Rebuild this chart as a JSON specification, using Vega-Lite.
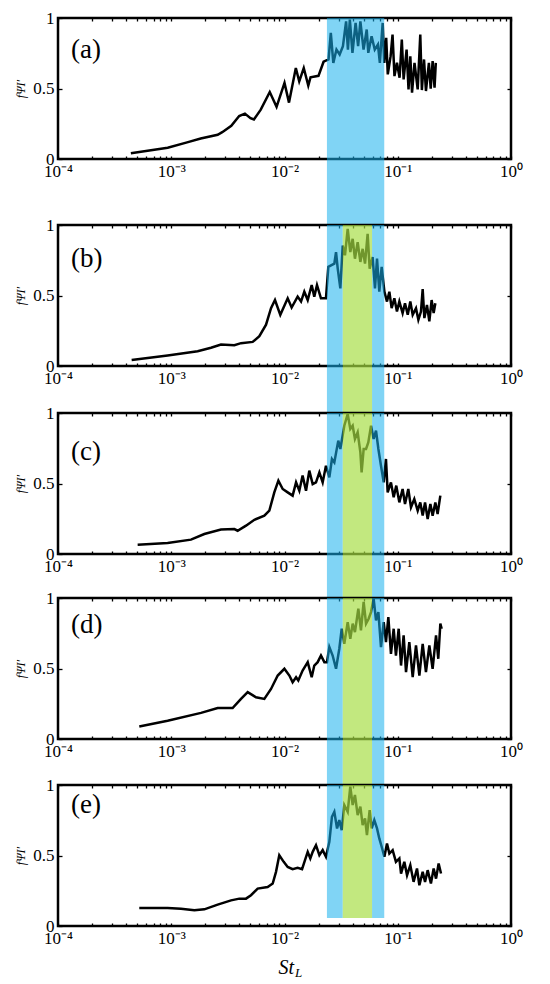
{
  "$schema": "https://vega.github.io/schema/vega-lite/v6.json",
  "padding": {"left": 13, "top": 7, "right": 5, "bottom": 5},
  "bounds": "flush",
  "spacing": 20,
  "datasets": {
    "a": [
      {"St": 0.00044, "f": 0.04}, {"St": 0.00093, "f": 0.08}, {"St": 0.00138, "f": 0.118}, {"St": 0.00182, "f": 0.145},
      {"St": 0.00257, "f": 0.172}, {"St": 0.00282, "f": 0.19}, {"St": 0.00339, "f": 0.235}, {"St": 0.00398, "f": 0.305},
      {"St": 0.00447, "f": 0.322}, {"St": 0.00501, "f": 0.29}, {"St": 0.00537, "f": 0.28}, {"St": 0.00617, "f": 0.35},
      {"St": 0.00741, "f": 0.475}, {"St": 0.00851, "f": 0.37}, {"St": 0.0100, "f": 0.54}, {"St": 0.01096, "f": 0.40},
      {"St": 0.01259, "f": 0.645}, {"St": 0.01349, "f": 0.55}, {"St": 0.01479, "f": 0.645}, {"St": 0.01622, "f": 0.52},
      {"St": 0.01698, "f": 0.58}, {"St": 0.01995, "f": 0.59}, {"St": 0.02213, "f": 0.69}, {"St": 0.02449, "f": 0.706},
      {"St": 0.02564, "f": 0.894}, {"St": 0.02698, "f": 0.682}, {"St": 0.02877, "f": 0.776}, {"St": 0.03069, "f": 0.741},
      {"St": 0.03281, "f": 0.8}, {"St": 0.03499, "f": 0.976}, {"St": 0.03631, "f": 0.776}, {"St": 0.03776, "f": 0.988},
      {"St": 0.03981, "f": 0.753}, {"St": 0.04246, "f": 0.965}, {"St": 0.04467, "f": 0.8}, {"St": 0.04677, "f": 0.976},
      {"St": 0.04989, "f": 0.776}, {"St": 0.05321, "f": 0.918}, {"St": 0.05495, "f": 0.753}, {"St": 0.05875, "f": 0.871},
      {"St": 0.06266, "f": 0.776}, {"St": 0.06683, "f": 0.812}, {"St": 0.0695, "f": 0.682}, {"St": 0.07362, "f": 0.965},
      {"St": 0.07603, "f": 0.682}, {"St": 0.07907, "f": 0.859}, {"St": 0.08166, "f": 0.6}, {"St": 0.0865, "f": 0.729},
      {"St": 0.08995, "f": 0.882}, {"St": 0.09354, "f": 0.588}, {"St": 0.0984, "f": 0.682}, {"St": 0.1038, "f": 0.576},
      {"St": 0.1086, "f": 0.847}, {"St": 0.1127, "f": 0.565}, {"St": 0.1197, "f": 0.776}, {"St": 0.1245, "f": 0.494},
      {"St": 0.1291, "f": 0.729}, {"St": 0.1337, "f": 0.471}, {"St": 0.1406, "f": 0.682}, {"St": 0.15, "f": 0.494},
      {"St": 0.1581, "f": 0.882}, {"St": 0.1633, "f": 0.489}, {"St": 0.1706, "f": 0.706}, {"St": 0.1774, "f": 0.482},
      {"St": 0.1884, "f": 0.682}, {"St": 0.1954, "f": 0.499}, {"St": 0.2032, "f": 0.694}, {"St": 0.2113, "f": 0.506},
      {"St": 0.2168, "f": 0.682}
    ],
    "b": [
      {"St": 0.000447, "f": 0.042}, {"St": 0.000929, "f": 0.075}, {"St": 0.00171, "f": 0.105}, {"St": 0.002244, "f": 0.129},
      {"St": 0.002748, "f": 0.152}, {"St": 0.003606, "f": 0.148}, {"St": 0.00413, "f": 0.162}, {"St": 0.005236, "f": 0.171},
      {"St": 0.005998, "f": 0.211}, {"St": 0.006871, "f": 0.293}, {"St": 0.007603, "f": 0.41}, {"St": 0.008241, "f": 0.468},
      {"St": 0.009183, "f": 0.363}, {"St": 0.01067, "f": 0.48}, {"St": 0.01156, "f": 0.415}, {"St": 0.01306, "f": 0.492},
      {"St": 0.014, "f": 0.457}, {"St": 0.01496, "f": 0.527}, {"St": 0.01603, "f": 0.468}, {"St": 0.01738, "f": 0.574},
      {"St": 0.01832, "f": 0.492}, {"St": 0.01936, "f": 0.574}, {"St": 0.02099, "f": 0.48}, {"St": 0.02323, "f": 0.48},
      {"St": 0.02438, "f": 0.703}, {"St": 0.02576, "f": 0.714}, {"St": 0.02754, "f": 0.726}, {"St": 0.02851, "f": 0.808},
      {"St": 0.02951, "f": 0.691}, {"St": 0.03112, "f": 0.55}, {"St": 0.03266, "f": 0.855}, {"St": 0.0342, "f": 0.785},
      {"St": 0.03614, "f": 0.972}, {"St": 0.03811, "f": 0.808}, {"St": 0.03999, "f": 0.902}, {"St": 0.04188, "f": 0.761},
      {"St": 0.04426, "f": 0.878}, {"St": 0.04677, "f": 0.738}, {"St": 0.04898, "f": 0.831}, {"St": 0.0514, "f": 0.726},
      {"St": 0.0542, "f": 0.937}, {"St": 0.05649, "f": 0.691}, {"St": 0.05998, "f": 0.773}, {"St": 0.06295, "f": 0.55},
      {"St": 0.06561, "f": 0.761}, {"St": 0.06871, "f": 0.527}, {"St": 0.07211, "f": 0.703}, {"St": 0.07621, "f": 0.527},
      {"St": 0.08035, "f": 0.457}, {"St": 0.08433, "f": 0.527}, {"St": 0.08831, "f": 0.41}, {"St": 0.09333, "f": 0.48},
      {"St": 0.0984, "f": 0.386}, {"St": 0.1033, "f": 0.457}, {"St": 0.1104, "f": 0.375}, {"St": 0.1159, "f": 0.445},
      {"St": 0.1225, "f": 0.363}, {"St": 0.1291, "f": 0.457}, {"St": 0.1355, "f": 0.363}, {"St": 0.1449, "f": 0.41},
      {"St": 0.1521, "f": 0.328}, {"St": 0.1603, "f": 0.386}, {"St": 0.166, "f": 0.546}, {"St": 0.1718, "f": 0.34},
      {"St": 0.1811, "f": 0.433}, {"St": 0.1901, "f": 0.316}, {"St": 0.1991, "f": 0.468}, {"St": 0.2075, "f": 0.375},
      {"St": 0.2148, "f": 0.445}
    ],
    "c": [
      {"St": 0.000505, "f": 0.066}, {"St": 0.000929, "f": 0.078}, {"St": 0.001493, "f": 0.102}, {"St": 0.001959, "f": 0.142},
      {"St": 0.002748, "f": 0.173}, {"St": 0.003606, "f": 0.177}, {"St": 0.003855, "f": 0.165}, {"St": 0.004571, "f": 0.201},
      {"St": 0.00542, "f": 0.243}, {"St": 0.006637, "f": 0.272}, {"St": 0.007345, "f": 0.307}, {"St": 0.008128, "f": 0.437},
      {"St": 0.008831, "f": 0.52}, {"St": 0.009638, "f": 0.461}, {"St": 0.01067, "f": 0.437}, {"St": 0.0118, "f": 0.414},
      {"St": 0.01265, "f": 0.508}, {"St": 0.01352, "f": 0.449}, {"St": 0.01445, "f": 0.556}, {"St": 0.01549, "f": 0.449},
      {"St": 0.01656, "f": 0.591}, {"St": 0.01774, "f": 0.496}, {"St": 0.01897, "f": 0.508}, {"St": 0.02032, "f": 0.579},
      {"St": 0.02173, "f": 0.508}, {"St": 0.02323, "f": 0.626}, {"St": 0.02489, "f": 0.544}, {"St": 0.02624, "f": 0.674},
      {"St": 0.02754, "f": 0.65}, {"St": 0.02985, "f": 0.804}, {"St": 0.03112, "f": 0.745}, {"St": 0.03373, "f": 0.91},
      {"St": 0.03614, "f": 0.993}, {"St": 0.03811, "f": 0.887}, {"St": 0.03999, "f": 0.91}, {"St": 0.04188, "f": 0.816},
      {"St": 0.04426, "f": 0.863}, {"St": 0.04677, "f": 0.721}, {"St": 0.04797, "f": 0.579}, {"St": 0.05, "f": 0.745},
      {"St": 0.05248, "f": 0.745}, {"St": 0.05495, "f": 0.792}, {"St": 0.05808, "f": 0.91}, {"St": 0.06124, "f": 0.816},
      {"St": 0.06427, "f": 0.875}, {"St": 0.06745, "f": 0.745}, {"St": 0.07112, "f": 0.626}, {"St": 0.07516, "f": 0.508},
      {"St": 0.0787, "f": 0.674}, {"St": 0.08147, "f": 0.437}, {"St": 0.0871, "f": 0.508}, {"St": 0.09204, "f": 0.402},
      {"St": 0.09705, "f": 0.485}, {"St": 0.1033, "f": 0.366}, {"St": 0.1104, "f": 0.461}, {"St": 0.1159, "f": 0.355},
      {"St": 0.1239, "f": 0.461}, {"St": 0.1309, "f": 0.331}, {"St": 0.14, "f": 0.39}, {"St": 0.15, "f": 0.307},
      {"St": 0.1581, "f": 0.366}, {"St": 0.166, "f": 0.272}, {"St": 0.1742, "f": 0.366}, {"St": 0.1837, "f": 0.248},
      {"St": 0.1941, "f": 0.355}, {"St": 0.2032, "f": 0.272}, {"St": 0.2148, "f": 0.366}, {"St": 0.2249, "f": 0.284},
      {"St": 0.2377, "f": 0.414}
    ],
    "d": [
      {"St": 0.000522, "f": 0.088}, {"St": 0.000929, "f": 0.13}, {"St": 0.001832, "f": 0.185}, {"St": 0.00257, "f": 0.22},
      {"St": 0.003483, "f": 0.22}, {"St": 0.00413, "f": 0.284}, {"St": 0.004732, "f": 0.332}, {"St": 0.005598, "f": 0.296},
      {"St": 0.006637, "f": 0.284}, {"St": 0.007603, "f": 0.355}, {"St": 0.00871, "f": 0.45}, {"St": 0.009977, "f": 0.498},
      {"St": 0.01104, "f": 0.45}, {"St": 0.0118, "f": 0.403}, {"St": 0.01265, "f": 0.438}, {"St": 0.01324, "f": 0.415},
      {"St": 0.01445, "f": 0.486}, {"St": 0.01603, "f": 0.545}, {"St": 0.01738, "f": 0.438}, {"St": 0.01832, "f": 0.521},
      {"St": 0.01963, "f": 0.545}, {"St": 0.02099, "f": 0.592}, {"St": 0.02249, "f": 0.545}, {"St": 0.02371, "f": 0.545},
      {"St": 0.02489, "f": 0.652}, {"St": 0.02661, "f": 0.592}, {"St": 0.02851, "f": 0.498}, {"St": 0.03048, "f": 0.64},
      {"St": 0.03199, "f": 0.782}, {"St": 0.03373, "f": 0.675}, {"St": 0.03614, "f": 0.829}, {"St": 0.03811, "f": 0.711},
      {"St": 0.03999, "f": 0.818}, {"St": 0.04188, "f": 0.758}, {"St": 0.04487, "f": 0.924}, {"St": 0.04732, "f": 0.77},
      {"St": 0.05, "f": 0.972}, {"St": 0.05248, "f": 0.818}, {"St": 0.05534, "f": 0.853}, {"St": 0.05808, "f": 0.9},
      {"St": 0.06124, "f": 0.995}, {"St": 0.06427, "f": 0.841}, {"St": 0.06745, "f": 0.9}, {"St": 0.07112, "f": 0.652},
      {"St": 0.07516, "f": 0.829}, {"St": 0.0787, "f": 0.687}, {"St": 0.0826, "f": 0.865}, {"St": 0.0871, "f": 0.604},
      {"St": 0.09204, "f": 0.782}, {"St": 0.09638, "f": 0.592}, {"St": 0.1019, "f": 0.782}, {"St": 0.1069, "f": 0.521},
      {"St": 0.1127, "f": 0.735}, {"St": 0.1183, "f": 0.474}, {"St": 0.1265, "f": 0.687}, {"St": 0.1355, "f": 0.438},
      {"St": 0.1449, "f": 0.664}, {"St": 0.1552, "f": 0.45}, {"St": 0.166, "f": 0.675}, {"St": 0.1774, "f": 0.474},
      {"St": 0.1901, "f": 0.664}, {"St": 0.2032, "f": 0.498}, {"St": 0.2178, "f": 0.735}, {"St": 0.228, "f": 0.569},
      {"St": 0.2377, "f": 0.818}, {"St": 0.2443, "f": 0.782}
    ],
    "e": [
      {"St": 0.000522, "f": 0.128}, {"St": 0.000929, "f": 0.128}, {"St": 0.001219, "f": 0.123}, {"St": 0.0016, "f": 0.111},
      {"St": 0.001959, "f": 0.118}, {"St": 0.00257, "f": 0.152}, {"St": 0.003373, "f": 0.182}, {"St": 0.00399, "f": 0.194},
      {"St": 0.004571, "f": 0.194}, {"St": 0.005058, "f": 0.218}, {"St": 0.005794, "f": 0.265}, {"St": 0.007096, "f": 0.277},
      {"St": 0.00787, "f": 0.301}, {"St": 0.008414, "f": 0.384}, {"St": 0.008995, "f": 0.502}, {"St": 0.00984, "f": 0.455},
      {"St": 0.01067, "f": 0.419}, {"St": 0.0118, "f": 0.403}, {"St": 0.01306, "f": 0.412}, {"St": 0.01429, "f": 0.403},
      {"St": 0.01517, "f": 0.467}, {"St": 0.01603, "f": 0.526}, {"St": 0.0169, "f": 0.479}, {"St": 0.01774, "f": 0.526},
      {"St": 0.01897, "f": 0.573}, {"St": 0.02032, "f": 0.502}, {"St": 0.02173, "f": 0.538}, {"St": 0.02323, "f": 0.491},
      {"St": 0.02489, "f": 0.597}, {"St": 0.02624, "f": 0.775}, {"St": 0.02754, "f": 0.81}, {"St": 0.02911, "f": 0.692},
      {"St": 0.03048, "f": 0.751}, {"St": 0.03199, "f": 0.68}, {"St": 0.03373, "f": 0.858}, {"St": 0.03614, "f": 0.81},
      {"St": 0.03811, "f": 0.988}, {"St": 0.03999, "f": 0.858}, {"St": 0.04188, "f": 0.929}, {"St": 0.04426, "f": 0.787},
      {"St": 0.04677, "f": 0.846}, {"St": 0.04898, "f": 0.716}, {"St": 0.0514, "f": 0.763}, {"St": 0.05346, "f": 0.645},
      {"St": 0.05649, "f": 0.822}, {"St": 0.05888, "f": 0.692}, {"St": 0.06209, "f": 0.751}, {"St": 0.06561, "f": 0.692},
      {"St": 0.06871, "f": 0.621}, {"St": 0.07211, "f": 0.562}, {"St": 0.07621, "f": 0.491}, {"St": 0.08035, "f": 0.585},
      {"St": 0.08433, "f": 0.514}, {"St": 0.09016, "f": 0.538}, {"St": 0.09638, "f": 0.455}, {"St": 0.1033, "f": 0.479},
      {"St": 0.1069, "f": 0.372}, {"St": 0.1143, "f": 0.455}, {"St": 0.1208, "f": 0.36}, {"St": 0.1291, "f": 0.431},
      {"St": 0.138, "f": 0.313}, {"St": 0.1479, "f": 0.408}, {"St": 0.1552, "f": 0.289}, {"St": 0.166, "f": 0.384},
      {"St": 0.1742, "f": 0.313}, {"St": 0.1837, "f": 0.396}, {"St": 0.1963, "f": 0.301}, {"St": 0.2075, "f": 0.408},
      {"St": 0.2178, "f": 0.336}, {"St": 0.2296, "f": 0.443}, {"St": 0.241, "f": 0.372}
    ],
    "bands": [
      {"zone": "full", "lo": 0.0237, "hi": 0.076},
      {"zone": "left", "lo": 0.0237, "hi": 0.0327},
      {"zone": "core", "lo": 0.0327, "hi": 0.0593},
      {"zone": "right", "lo": 0.0593, "hi": 0.076}
    ],
    "tags": [
      {"panel": "a", "tag": "(a)"}, {"panel": "b", "tag": "(b)"}, {"panel": "c", "tag": "(c)"},
      {"panel": "d", "tag": "(d)"}, {"panel": "e", "tag": "(e)"}
    ],
    "xtitle": [{"part": "St"}, {"part": "L"}]
  },
  "vconcat": [
    {
      "width": 453, "height": 141,
      "layer": [
        {"data": {"name": "a"}, "mark": {"type": "line", "color": "black", "strokeWidth": 2.5},
         "encoding": {
           "x": {"field": "St", "type": "quantitative", "scale": {"type": "log", "domain": [0.0001, 1], "nice": false},
                 "axis": {"orient": "bottom", "title": null, "tickSize": -3, "labelPadding": 7, "labelFont": "Liberation Serif", "labelFontSize": 17, "labelColor": "black",
                          "values": [0.0001,0.0002,0.0003,0.0004,0.0005,0.0006,0.0007,0.0008,0.0009,0.001,0.002,0.003,0.004,0.005,0.006,0.007,0.008,0.009,0.01,0.02,0.03,0.04,0.05,0.06,0.07,0.08,0.09,0.1,0.2,0.3,0.4,0.5,0.6,0.7,0.8,0.9,1],
                          "labelExpr": "abs(log(datum.value)/LN10 - round(log(datum.value)/LN10)) > 0.01 ? '' : '10' + replace(replace(replace(replace(replace(replace('' + round(log(datum.value)/LN10), '-', '⁻'), '0', '⁰'), '1', '¹'), '2', '²'), '3', '³'), '4', '⁴')"}},
           "y": {"field": "f", "type": "quantitative", "scale": {"domain": [0, 1], "nice": false},
                 "axis": {"orient": "left", "values": [0, 0.5, 1], "format": "~g", "tickSize": -4, "labelPadding": 8, "labelFont": "Liberation Serif", "labelFontSize": 17, "labelColor": "black",
                          "title": "fΨI′", "titleFont": "Liberation Serif", "titleFontStyle": "italic", "titleFontWeight": "normal", "titleFontSize": 12, "titlePadding": 5, "titleColor": "black"}}}},
        {"data": {"name": "bands"}, "transform": [{"filter": "datum.zone == 'full'"}],
         "mark": {"type": "rect", "color": "#18b0ed", "opacity": 0.55},
         "encoding": {
           "x": {"field": "lo", "type": "quantitative", "scale": {"type": "log", "domain": [0.0001, 1], "nice": false},
                 "axis": {"orient": "top", "title": null, "labels": false, "tickSize": -3,
                          "values": [0.0001,0.0002,0.0003,0.0004,0.0005,0.0006,0.0007,0.0008,0.0009,0.001,0.002,0.003,0.004,0.005,0.006,0.007,0.008,0.009,0.01,0.02,0.03,0.04,0.05,0.06,0.07,0.08,0.09,0.1,0.2,0.3,0.4,0.5,0.6,0.7,0.8,0.9,1]}},
           "x2": {"field": "hi"},
           "y": {"datum": 1, "type": "quantitative", "axis": {"orient": "right", "values": [0, 0.5, 1], "labels": false, "tickSize": -4, "title": null}},
           "y2": {"datum": -0.468}}},
        {"data": {"name": "tags"}, "transform": [{"filter": "datum.panel == 'a'"}],
         "mark": {"type": "text", "align": "left", "baseline": "middle", "fontSize": 27},
         "encoding": {
           "x": {"datum": 0.00013, "type": "quantitative", "axis": null},
           "y": {"datum": 0.77, "type": "quantitative", "axis": null},
           "text": {"field": "tag"}}}
      ],
      "resolve": {"axis": {"x": "independent", "y": "independent"}}
    },
    {"width": 453, "height": 26, "data": {"values": [{}]}, "mark": {"type": "point", "opacity": 0}, "view": {"stroke": null}},
    {
      "width": 453, "height": 141,
      "layer": [
        {"data": {"name": "b"}, "mark": {"type": "line", "color": "black", "strokeWidth": 2.5},
         "encoding": {
           "x": {"field": "St", "type": "quantitative", "scale": {"type": "log", "domain": [0.0001, 1], "nice": false},
                 "axis": {"orient": "bottom", "title": null, "tickSize": -3, "labelPadding": 7, "labelFont": "Liberation Serif", "labelFontSize": 17, "labelColor": "black",
                          "values": [0.0001,0.0002,0.0003,0.0004,0.0005,0.0006,0.0007,0.0008,0.0009,0.001,0.002,0.003,0.004,0.005,0.006,0.007,0.008,0.009,0.01,0.02,0.03,0.04,0.05,0.06,0.07,0.08,0.09,0.1,0.2,0.3,0.4,0.5,0.6,0.7,0.8,0.9,1],
                          "labelExpr": "abs(log(datum.value)/LN10 - round(log(datum.value)/LN10)) > 0.01 ? '' : '10' + replace(replace(replace(replace(replace(replace('' + round(log(datum.value)/LN10), '-', '⁻'), '0', '⁰'), '1', '¹'), '2', '²'), '3', '³'), '4', '⁴')"}},
           "y": {"field": "f", "type": "quantitative", "scale": {"domain": [0, 1], "nice": false},
                 "axis": {"orient": "left", "values": [0, 0.5, 1], "format": "~g", "tickSize": -4, "labelPadding": 8, "labelFont": "Liberation Serif", "labelFontSize": 17, "labelColor": "black",
                          "title": "fΨI′", "titleFont": "Liberation Serif", "titleFontStyle": "italic", "titleFontWeight": "normal", "titleFontSize": 12, "titlePadding": 5, "titleColor": "black"}}}},
        {"data": {"name": "bands"}, "transform": [{"filter": "datum.zone == 'left' || datum.zone == 'right'"}],
         "mark": {"type": "rect", "color": "#18b0ed", "opacity": 0.55},
         "encoding": {
           "x": {"field": "lo", "type": "quantitative", "scale": {"type": "log", "domain": [0.0001, 1], "nice": false},
                 "axis": {"orient": "top", "title": null, "labels": false, "tickSize": -3,
                          "values": [0.0001,0.0002,0.0003,0.0004,0.0005,0.0006,0.0007,0.0008,0.0009,0.001,0.002,0.003,0.004,0.005,0.006,0.007,0.008,0.009,0.01,0.02,0.03,0.04,0.05,0.06,0.07,0.08,0.09,0.1,0.2,0.3,0.4,0.5,0.6,0.7,0.8,0.9,1]}},
           "x2": {"field": "hi"},
           "y": {"datum": 1, "type": "quantitative", "axis": {"orient": "right", "values": [0, 0.5, 1], "labels": false, "tickSize": -4, "title": null}},
           "y2": {"datum": -0.333}}},
        {"data": {"name": "bands"}, "transform": [{"filter": "datum.zone == 'core'"}],
         "mark": {"type": "rect", "color": "#a5dd43", "opacity": 0.68},
         "encoding": {
           "x": {"field": "lo", "type": "quantitative", "scale": {"type": "log", "domain": [0.0001, 1], "nice": false}, "axis": null},
           "x2": {"field": "hi"},
           "y": {"datum": 1, "type": "quantitative", "axis": null},
           "y2": {"datum": -0.333}}},
        {"data": {"name": "tags"}, "transform": [{"filter": "datum.panel == 'b'"}],
         "mark": {"type": "text", "align": "left", "baseline": "middle", "fontSize": 27},
         "encoding": {
           "x": {"datum": 0.00013, "type": "quantitative", "axis": null},
           "y": {"datum": 0.76, "type": "quantitative", "axis": null},
           "text": {"field": "tag"}}}
      ],
      "resolve": {"axis": {"x": "independent", "y": "independent"}}
    },
    {"width": 453, "height": 7, "data": {"values": [{}]}, "mark": {"type": "point", "opacity": 0}, "view": {"stroke": null}},
    {
      "width": 453, "height": 141,
      "layer": [
        {"data": {"name": "c"}, "mark": {"type": "line", "color": "black", "strokeWidth": 2.5},
         "encoding": {
           "x": {"field": "St", "type": "quantitative", "scale": {"type": "log", "domain": [0.0001, 1], "nice": false},
                 "axis": {"orient": "bottom", "title": null, "tickSize": -3, "labelPadding": 7, "labelFont": "Liberation Serif", "labelFontSize": 17, "labelColor": "black",
                          "values": [0.0001,0.0002,0.0003,0.0004,0.0005,0.0006,0.0007,0.0008,0.0009,0.001,0.002,0.003,0.004,0.005,0.006,0.007,0.008,0.009,0.01,0.02,0.03,0.04,0.05,0.06,0.07,0.08,0.09,0.1,0.2,0.3,0.4,0.5,0.6,0.7,0.8,0.9,1],
                          "labelExpr": "abs(log(datum.value)/LN10 - round(log(datum.value)/LN10)) > 0.01 ? '' : '10' + replace(replace(replace(replace(replace(replace('' + round(log(datum.value)/LN10), '-', '⁻'), '0', '⁰'), '1', '¹'), '2', '²'), '3', '³'), '4', '⁴')"}},
           "y": {"field": "f", "type": "quantitative", "scale": {"domain": [0, 1], "nice": false},
                 "axis": {"orient": "left", "values": [0, 0.5, 1], "format": "~g", "tickSize": -4, "labelPadding": 8, "labelFont": "Liberation Serif", "labelFontSize": 17, "labelColor": "black",
                          "title": "fΨI′", "titleFont": "Liberation Serif", "titleFontStyle": "italic", "titleFontWeight": "normal", "titleFontSize": 12, "titlePadding": 5, "titleColor": "black"}}}},
        {"data": {"name": "bands"}, "transform": [{"filter": "datum.zone == 'left' || datum.zone == 'right'"}],
         "mark": {"type": "rect", "color": "#18b0ed", "opacity": 0.55},
         "encoding": {
           "x": {"field": "lo", "type": "quantitative", "scale": {"type": "log", "domain": [0.0001, 1], "nice": false},
                 "axis": {"orient": "top", "title": null, "labels": false, "tickSize": -3,
                          "values": [0.0001,0.0002,0.0003,0.0004,0.0005,0.0006,0.0007,0.0008,0.0009,0.001,0.002,0.003,0.004,0.005,0.006,0.007,0.008,0.009,0.01,0.02,0.03,0.04,0.05,0.06,0.07,0.08,0.09,0.1,0.2,0.3,0.4,0.5,0.6,0.7,0.8,0.9,1]}},
           "x2": {"field": "hi"},
           "y": {"datum": 1, "type": "quantitative", "axis": {"orient": "right", "values": [0, 0.5, 1], "labels": false, "tickSize": -4, "title": null}},
           "y2": {"datum": -0.312}}},
        {"data": {"name": "bands"}, "transform": [{"filter": "datum.zone == 'core'"}],
         "mark": {"type": "rect", "color": "#a5dd43", "opacity": 0.68},
         "encoding": {
           "x": {"field": "lo", "type": "quantitative", "scale": {"type": "log", "domain": [0.0001, 1], "nice": false}, "axis": null},
           "x2": {"field": "hi"},
           "y": {"datum": 1, "type": "quantitative", "axis": null},
           "y2": {"datum": -0.312}}},
        {"data": {"name": "tags"}, "transform": [{"filter": "datum.panel == 'c'"}],
         "mark": {"type": "text", "align": "left", "baseline": "middle", "fontSize": 27},
         "encoding": {
           "x": {"datum": 0.00013, "type": "quantitative", "axis": null},
           "y": {"datum": 0.72, "type": "quantitative", "axis": null},
           "text": {"field": "tag"}}}
      ],
      "resolve": {"axis": {"x": "independent", "y": "independent"}}
    },
    {"width": 453, "height": 4, "data": {"values": [{}]}, "mark": {"type": "point", "opacity": 0}, "view": {"stroke": null}},
    {
      "width": 453, "height": 141,
      "layer": [
        {"data": {"name": "d"}, "mark": {"type": "line", "color": "black", "strokeWidth": 2.5},
         "encoding": {
           "x": {"field": "St", "type": "quantitative", "scale": {"type": "log", "domain": [0.0001, 1], "nice": false},
                 "axis": {"orient": "bottom", "title": null, "tickSize": -3, "labelPadding": 7, "labelFont": "Liberation Serif", "labelFontSize": 17, "labelColor": "black",
                          "values": [0.0001,0.0002,0.0003,0.0004,0.0005,0.0006,0.0007,0.0008,0.0009,0.001,0.002,0.003,0.004,0.005,0.006,0.007,0.008,0.009,0.01,0.02,0.03,0.04,0.05,0.06,0.07,0.08,0.09,0.1,0.2,0.3,0.4,0.5,0.6,0.7,0.8,0.9,1],
                          "labelExpr": "abs(log(datum.value)/LN10 - round(log(datum.value)/LN10)) > 0.01 ? '' : '10' + replace(replace(replace(replace(replace(replace('' + round(log(datum.value)/LN10), '-', '⁻'), '0', '⁰'), '1', '¹'), '2', '²'), '3', '³'), '4', '⁴')"}},
           "y": {"field": "f", "type": "quantitative", "scale": {"domain": [0, 1], "nice": false},
                 "axis": {"orient": "left", "values": [0, 0.5, 1], "format": "~g", "tickSize": -4, "labelPadding": 8, "labelFont": "Liberation Serif", "labelFontSize": 17, "labelColor": "black",
                          "title": "fΨI′", "titleFont": "Liberation Serif", "titleFontStyle": "italic", "titleFontWeight": "normal", "titleFontSize": 12, "titlePadding": 5, "titleColor": "black"}}}},
        {"data": {"name": "bands"}, "transform": [{"filter": "datum.zone == 'left' || datum.zone == 'right'"}],
         "mark": {"type": "rect", "color": "#18b0ed", "opacity": 0.55},
         "encoding": {
           "x": {"field": "lo", "type": "quantitative", "scale": {"type": "log", "domain": [0.0001, 1], "nice": false},
                 "axis": {"orient": "top", "title": null, "labels": false, "tickSize": -3,
                          "values": [0.0001,0.0002,0.0003,0.0004,0.0005,0.0006,0.0007,0.0008,0.0009,0.001,0.002,0.003,0.004,0.005,0.006,0.007,0.008,0.009,0.01,0.02,0.03,0.04,0.05,0.06,0.07,0.08,0.09,0.1,0.2,0.3,0.4,0.5,0.6,0.7,0.8,0.9,1]}},
           "x2": {"field": "hi"},
           "y": {"datum": 1, "type": "quantitative", "axis": {"orient": "right", "values": [0, 0.5, 1], "labels": false, "tickSize": -4, "title": null}},
           "y2": {"datum": -0.326}}},
        {"data": {"name": "bands"}, "transform": [{"filter": "datum.zone == 'core'"}],
         "mark": {"type": "rect", "color": "#a5dd43", "opacity": 0.68},
         "encoding": {
           "x": {"field": "lo", "type": "quantitative", "scale": {"type": "log", "domain": [0.0001, 1], "nice": false}, "axis": null},
           "x2": {"field": "hi"},
           "y": {"datum": 1, "type": "quantitative", "axis": null},
           "y2": {"datum": -0.326}}},
        {"data": {"name": "tags"}, "transform": [{"filter": "datum.panel == 'd'"}],
         "mark": {"type": "text", "align": "left", "baseline": "middle", "fontSize": 27},
         "encoding": {
           "x": {"datum": 0.00013, "type": "quantitative", "axis": null},
           "y": {"datum": 0.81, "type": "quantitative", "axis": null},
           "text": {"field": "tag"}}}
      ],
      "resolve": {"axis": {"x": "independent", "y": "independent"}}
    },
    {"width": 453, "height": 6, "data": {"values": [{}]}, "mark": {"type": "point", "opacity": 0}, "view": {"stroke": null}},
    {
      "width": 453, "height": 141,
      "layer": [
        {"data": {"name": "e"}, "mark": {"type": "line", "color": "black", "strokeWidth": 2.5},
         "encoding": {
           "x": {"field": "St", "type": "quantitative", "scale": {"type": "log", "domain": [0.0001, 1], "nice": false},
                 "axis": {"orient": "bottom", "title": null, "tickSize": -3, "labelPadding": 7, "labelFont": "Liberation Serif", "labelFontSize": 17, "labelColor": "black",
                          "values": [0.0001,0.0002,0.0003,0.0004,0.0005,0.0006,0.0007,0.0008,0.0009,0.001,0.002,0.003,0.004,0.005,0.006,0.007,0.008,0.009,0.01,0.02,0.03,0.04,0.05,0.06,0.07,0.08,0.09,0.1,0.2,0.3,0.4,0.5,0.6,0.7,0.8,0.9,1],
                          "labelExpr": "abs(log(datum.value)/LN10 - round(log(datum.value)/LN10)) > 0.01 ? '' : '10' + replace(replace(replace(replace(replace(replace('' + round(log(datum.value)/LN10), '-', '⁻'), '0', '⁰'), '1', '¹'), '2', '²'), '3', '³'), '4', '⁴')"}},
           "y": {"field": "f", "type": "quantitative", "scale": {"domain": [0, 1], "nice": false},
                 "axis": {"orient": "left", "values": [0, 0.5, 1], "format": "~g", "tickSize": -4, "labelPadding": 8, "labelFont": "Liberation Serif", "labelFontSize": 17, "labelColor": "black",
                          "title": "fΨI′", "titleFont": "Liberation Serif", "titleFontStyle": "italic", "titleFontWeight": "normal", "titleFontSize": 12, "titlePadding": 5, "titleColor": "black"}}}},
        {"data": {"name": "bands"}, "transform": [{"filter": "datum.zone == 'left' || datum.zone == 'right'"}],
         "mark": {"type": "rect", "color": "#18b0ed", "opacity": 0.55},
         "encoding": {
           "x": {"field": "lo", "type": "quantitative", "scale": {"type": "log", "domain": [0.0001, 1], "nice": false},
                 "axis": {"orient": "top", "title": null, "labels": false, "tickSize": -3,
                          "values": [0.0001,0.0002,0.0003,0.0004,0.0005,0.0006,0.0007,0.0008,0.0009,0.001,0.002,0.003,0.004,0.005,0.006,0.007,0.008,0.009,0.01,0.02,0.03,0.04,0.05,0.06,0.07,0.08,0.09,0.1,0.2,0.3,0.4,0.5,0.6,0.7,0.8,0.9,1]}},
           "x2": {"field": "hi"},
           "y": {"datum": 1, "type": "quantitative", "axis": {"orient": "right", "values": [0, 0.5, 1], "labels": false, "tickSize": -4, "title": null}},
           "y2": {"datum": 0.057}}},
        {"data": {"name": "bands"}, "transform": [{"filter": "datum.zone == 'core'"}],
         "mark": {"type": "rect", "color": "#a5dd43", "opacity": 0.68},
         "encoding": {
           "x": {"field": "lo", "type": "quantitative", "scale": {"type": "log", "domain": [0.0001, 1], "nice": false}, "axis": null},
           "x2": {"field": "hi"},
           "y": {"datum": 1, "type": "quantitative", "axis": null},
           "y2": {"datum": 0.057}}},
        {"data": {"name": "tags"}, "transform": [{"filter": "datum.panel == 'e'"}],
         "mark": {"type": "text", "align": "left", "baseline": "middle", "fontSize": 27},
         "encoding": {
           "x": {"datum": 0.00013, "type": "quantitative", "axis": null},
           "y": {"datum": 0.86, "type": "quantitative", "axis": null},
           "text": {"field": "tag"}}},
        {"data": {"name": "xtitle"}, "transform": [{"filter": "datum.part == 'St'"}],
         "mark": {"type": "text", "align": "right", "baseline": "alphabetic", "fontSize": 20, "fontStyle": "italic"},
         "encoding": {
           "x": {"datum": 0.01213, "type": "quantitative", "axis": null},
           "y": {"datum": -0.34, "type": "quantitative", "axis": null},
           "text": {"field": "part"}}},
        {"data": {"name": "xtitle"}, "transform": [{"filter": "datum.part == 'L'"}],
         "mark": {"type": "text", "align": "left", "baseline": "alphabetic", "fontSize": 13, "fontStyle": "italic"},
         "encoding": {
           "x": {"datum": 0.0124, "type": "quantitative", "axis": null},
           "y": {"datum": -0.365, "type": "quantitative", "axis": null},
           "text": {"field": "part"}}}
      ],
      "resolve": {"axis": {"x": "independent", "y": "independent"}}
    }
  ],
  "config": {
    "view": {"stroke": "black", "strokeWidth": 2.5},
    "axis": {"domain": false, "grid": false, "labelFont": "Liberation Serif", "labelFontSize": 17, "labelColor": "black",
             "tickColor": "black", "tickWidth": 1.3, "titleFont": "Liberation Serif", "titleColor": "black",
             "labelFlush": false, "labelOverlap": false},
    "text": {"font": "Liberation Serif", "color": "black"}
  }
}
